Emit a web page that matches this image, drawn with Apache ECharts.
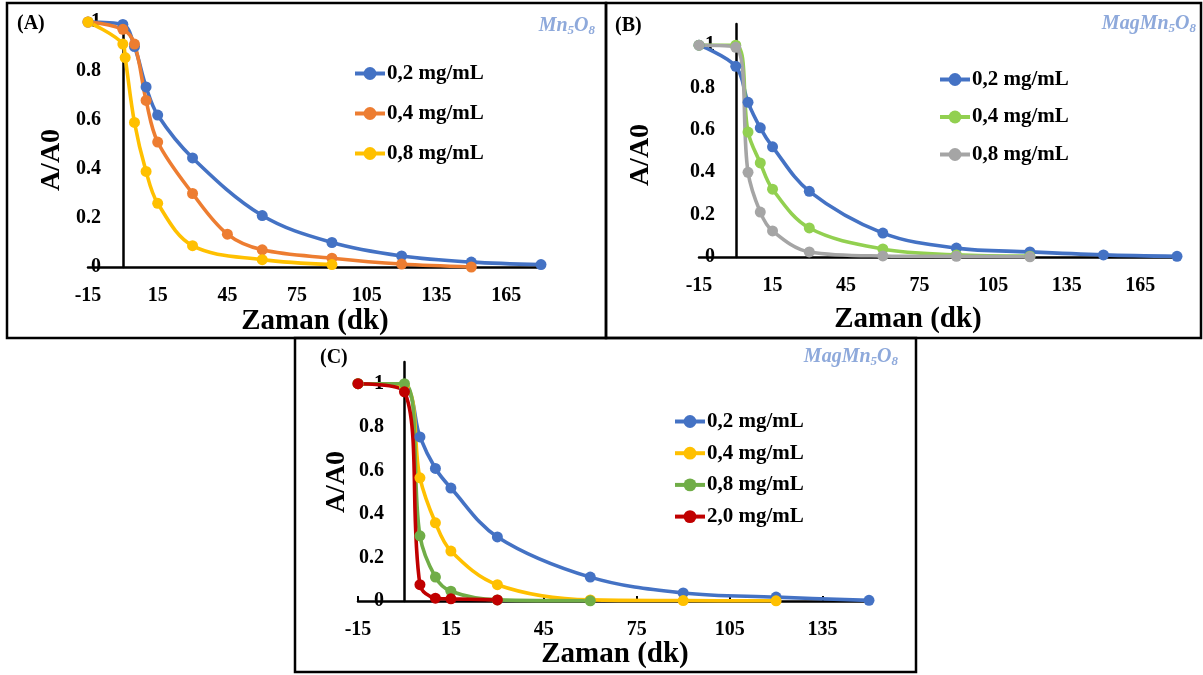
<!DOCTYPE html>
<html><head><meta charset="utf-8">
<script src="https://cdn.jsdelivr.net/npm/echarts@6/dist/echarts.min.js"></script>
<style>html,body{margin:0;padding:0;background:#fff}#c{width:1203px;height:675px}</style>
</head><body><div id="c"></div>
<script>
// ---- tick labels ----
const tickLabelsX = ['-15','15','45','75','105','135','165'];
const tickLabelsY = ['0','0.2','0.4','0.6','0.8','1'];
const legendNames = ['0,2 mg/mL','0,4 mg/mL','0,8 mg/mL','2,0 mg/mL'];

// ---- Panel A (Mn5O8) ----
const timeA1 = [-15,0,5,10,15,30,60,90,120,150,180];
const valA1  = [1,0.99,0.9,0.735,0.62,0.445,0.21,0.1,0.045,0.02,0.01];
const timeA2 = [-15,0,5,10,15,30,45,60,90,120,150];
const valA2  = [1,0.97,0.91,0.68,0.51,0.30,0.134,0.07,0.036,0.012,0.0];
const timeA3 = [-15,0,1,5,10,15,30,60,90];
const valA3  = [1,0.91,0.855,0.59,0.39,0.26,0.087,0.03,0.01];

// ---- Panel B (MagMn5O8) ----
const timeB1 = [-15,0,5,10,15,30,60,90,120,150,180];
const valB1  = [1,0.9,0.73,0.61,0.52,0.31,0.113,0.042,0.024,0.01,0.003];
const timeB2 = [-15,0,5,10,15,30,60,90,120];
const valB2  = [1,1,0.59,0.444,0.32,0.137,0.038,0.01,0.004];
const timeB3 = [-15,0,5,10,15,30,60,90,120];
const valB3  = [1,0.99,0.40,0.212,0.123,0.024,0.005,0.003,0.001];

// ---- Panel C (MagMn5O8) ----
const timeC1 = [-15,0,5,10,15,30,60,90,120,150];
const valC1  = [1,0.98,0.755,0.61,0.52,0.295,0.11,0.037,0.018,0.003];
const timeC2 = [-15,0,5,10,15,30,60,90,120];
const valC2  = [1,0.99,0.567,0.36,0.23,0.075,0.005,0.002,0.001];
const timeC3 = [-15,0,5,10,15,30,60];
const valC3  = [1,1,0.30,0.11,0.045,0.005,0.001];
const timeC4 = [-15,0,5,10,15,30];
const valC4  = [1,0.963,0.075,0.013,0.01,0.005];

const FONT = '"Liberation Serif","Times New Roman",serif';
const C_BLUE='#4472C4', C_ORANGE='#ED7D31', C_YELLOW='#FFC000', C_LGREEN='#92D050',
      C_GREY='#A5A5A5', C_GREEN='#70AD47', C_RED='#C00000', C_TITLE='#8EA9DB';

function zip(xs, ys){ return xs.map((x,i)=>[x, ys[i]]); }
function mk(panel, name, xs, ys, color, idx){
  return {type:'line', name: panel+'|'+name, xAxisIndex: idx, yAxisIndex: idx,
    data: zip(xs, ys), smooth: 0.35, symbol:'circle', symbolSize: 11, clip:false,
    lineStyle:{width:3.6, color}, itemStyle:{color}, emphasis:{disabled:true}};
}
const grids = [
  {left:88, top:22, width:453, height:245},
  {left:699, top:24, width:478, height:233},
  {left:358, top:362, width:511, height:239}
];
const xMax = [180,180,150];
const yMax = [1,1.1,1.1];
const yLabelMargin = [-13,-16,-26];
const showTick = [false,false,true];
const xAxes = grids.map((g,i)=>({gridIndex:i, type:'value', min:-15, max:xMax[i], interval:30,
  axisLine:{lineStyle:{color:'#000', width:2.5}},
  axisTick:{show:showTick[i], inside:true, length:5, lineStyle:{color:'#000', width:2}},
  splitLine:{show:false},
  axisLabel:{margin:19, fontSize:20, fontWeight:'bold', fontFamily:FONT, color:'#000',
    formatter:v=>{const s=String(Math.round(v)); return tickLabelsX.includes(s)?s:'';}}
}));
const yAxes = grids.map((g,i)=>({gridIndex:i, type:'value', min:0, max:yMax[i], interval:0.2,
  axisLine:{show:true, onZero:true, lineStyle:{color:'#000', width:2.5}},
  axisTick:{show:false}, splitLine:{show:false},
  axisLabel:{margin:yLabelMargin[i], fontSize:20, fontWeight:'bold', fontFamily:FONT, color:'#000',
    formatter:v=>{const s=String(Math.round(v*10)/10); return tickLabelsY.includes(s)?s:'';}}
}));
const series = [
  mk('A', legendNames[0], timeA1, valA1, C_BLUE, 0),
  mk('A', legendNames[1], timeA2, valA2, C_ORANGE, 0),
  mk('A', legendNames[2], timeA3, valA3, C_YELLOW, 0),
  mk('B', legendNames[0], timeB1, valB1, C_BLUE, 1),
  mk('B', legendNames[1], timeB2, valB2, C_LGREEN, 1),
  mk('B', legendNames[2], timeB3, valB3, C_GREY, 1),
  mk('C', legendNames[0], timeC1, valC1, C_BLUE, 2),
  mk('C', legendNames[1], timeC2, valC2, C_YELLOW, 2),
  mk('C', legendNames[2], timeC3, valC3, C_GREEN, 2),
  mk('C', legendNames[3], timeC4, valC4, C_RED, 2)
];
function legend(panel, n, left, top, gap){
  return {orient:'vertical', left, top, itemGap:gap, itemWidth:30, itemHeight:16,
    selectedMode:false, data: legendNames.slice(0,n).map(s=>panel+'|'+s),
    lineStyle:{width:4},
    formatter: name=>name.split('|')[1],
    textStyle:{fontSize:21, fontWeight:'bold', fontFamily:FONT, color:'#000', lineHeight:20, padding:[0,0,0,-3]}};
}
function txt(text, x, y, size, align){
  return {type:'text', silent:true, style:{text, x, y, fontSize:size, fontWeight:'bold',
    fontFamily:FONT, fill:'#000', align, textAlign:align, verticalAlign:'middle', textVerticalAlign:'middle'}};
}
function vtxt(text, x, y, size){
  return {type:'text', silent:true, x, y, rotation:Math.PI/2,
    style:{text, x:0, y:0, fontSize:size, fontWeight:'bold', fontFamily:FONT, fill:'#000',
      align:'center', textAlign:'center', verticalAlign:'middle', textVerticalAlign:'middle'}};
}
function formula(parts, x, y){
  return {type:'text', silent:true, style:{text: parts, x, y, align:'right', textAlign:'right',
    verticalAlign:'middle', textVerticalAlign:'middle',
    rich:{m:{fontSize:20, fontWeight:'bold', fontStyle:'italic', fontFamily:FONT, fill:C_TITLE, color:C_TITLE},
          s:{fontSize:13, fontWeight:'bold', fontStyle:'italic', fontFamily:FONT, fill:C_TITLE, color:C_TITLE, padding:[10,0,0,0]}}}};
}
function box(x1,y1,x2,y2){
  return {type:'rect', silent:true, shape:{x:x1, y:y1, width:x2-x1, height:y2-y1},
    style:{fill:'none', stroke:'#000', lineWidth:2.5}};
}
const graphic = [
  box(7,3,606,338), box(606,3,1201,338), box(295,338,916,672),
  txt('(A)', 17, 24, 20, 'left'), txt('(B)', 615, 26, 20, 'left'), txt('(C)', 320, 358, 20, 'left'),
  formula('{m|Mn}{s|5}{m|O}{s|8}', 595, 26),
  formula('{m|MagMn}{s|5}{m|O}{s|8}', 1196, 24),
  formula('{m|MagMn}{s|5}{m|O}{s|8}', 898, 357),
  txt('Zaman (dk)', 315, 322, 29, 'center'),
  txt('Zaman (dk)', 908, 320, 29, 'center'),
  txt('Zaman (dk)', 615, 655, 29, 'center'),
  vtxt('A/A0', 52, 160, 28),
  vtxt('A/A0', 641, 155, 28),
  vtxt('A/A0', 337, 482, 28)
];
const chart = echarts.init(document.getElementById('c'), null, {renderer:'canvas'});
chart.setOption({
  animation:false, backgroundColor:'#fff',
  grid: grids, xAxis: xAxes, yAxis: yAxes, series,
  legend: [legend('A',3,348,58,19), legend('B',3,933,64,16.5), legend('C',4,668,406,10.7)],
  graphic
});
</script></body></html>
